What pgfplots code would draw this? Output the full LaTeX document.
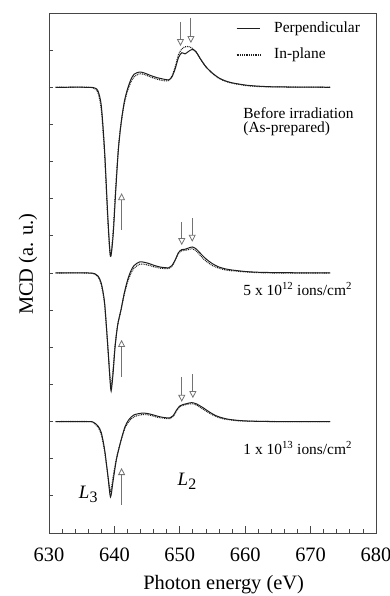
\documentclass[border=0pt]{standalone}
\usepackage{fontspec}
\setmainfont{Liberation Serif}
\usepackage{pgfplots}
\pgfplotsset{compat=1.18}
\usetikzlibrary{arrows.meta}
\definecolor{axgray}{RGB}{70,70,70}
\definecolor{arrgray}{RGB}{115,115,115}
\definecolor{curve}{RGB}{30,30,30}
\begin{document}
\begin{tikzpicture}
\useasboundingbox (-49bp,-63bp) rectangle (341bp,533bp);
\begin{axis}[
  scale only axis, width=327bp, height=520bp,
  xmin=630, xmax=680, ymin=0, ymax=14,
  xtick={630,640,...,680}, minor x tick num=4,
  ytick={1,...,13}, yticklabels={},
  xtick pos=bottom, ytick pos=left,
  tick align=inside,
  major tick length=7.5bp, minor tick length=3.8bp,
  ytick style={/pgfplots/major tick length=4.3bp},
  axis line style={axgray, line width=0.9pt},
  tick style={axgray, line width=0.8pt},
  /pgf/number format/assume math mode=true,
  /pgf/number format/set thousands separator={},
  ticklabel style={font=\fontsize{20.5}{24}\selectfont},
  xticklabel style={yshift=-11bp},
  xlabel={Photon energy (eV)}, ylabel={MCD (a. u.)},
  label style={font=\fontsize{20.5}{24}\selectfont},
  xlabel style={at={(axis description cs:0.534,-0.099)}, anchor=center},
  ylabel style={at={(axis description cs:-0.064,0.517)}, anchor=center},
  clip=false,
  every axis plot/.append style={smooth, tension=0.45},
]
% ---- Before irradiation, perpendicular
\addplot[curve, line width=1pt] coordinates {
(631,12.0)(636,12.0)(637,11.98)(637.5,11.9)(638,11.5)(638.5,10.3)(639,8.5)(639.4,7.45)
(639.8,8.0)(640.2,9.2)(640.6,10.3)(641,11.0)(641.5,11.6)(642,11.95)(642.5,12.2)(643,12.35)
(643.8,12.41)(644.5,12.39)(645.5,12.32)(646.5,12.26)(647.5,12.22)(648.3,12.2)(648.8,12.28)
(649.3,12.5)(649.8,12.8)(650.3,12.93)(650.8,12.9)(651.3,12.96)(651.9,13.02)(652.5,12.95)
(653.2,12.75)(654,12.55)(655,12.38)(656,12.25)(657,12.17)(658,12.12)(660,12.06)(662,12.03)
(665,12.01)(673,12.0)};
% ---- Before irradiation, in-plane
\addplot[curve, line width=1.1pt, dash pattern=on 0.9pt off 0.9pt] coordinates {
(631,12.0)(636,12.0)(637,11.96)(637.5,11.85)(638,11.4)(638.5,10.2)(639,8.4)(639.4,7.45)
(639.8,8.1)(640.2,9.3)(640.6,10.35)(641,11.0)(641.5,11.55)(642,11.9)(642.5,12.13)(643,12.28)
(643.8,12.36)(644.5,12.35)(645.5,12.28)(646.5,12.22)(647.5,12.18)(648.3,12.18)(648.8,12.3)
(649.3,12.55)(649.8,12.88)(650.3,13.03)(650.8,13.09)(651.3,13.1)(651.9,13.05)(652.5,12.95)
(653.2,12.75)(654,12.55)(655,12.37)(656,12.24)(657,12.16)(658,12.11)(660,12.05)(662,12.02)
(665,12.01)(673,12.0)};
% ---- 5e12, perpendicular
\addplot[curve, line width=1pt] coordinates {
(631,7.0)(636,7.0)(637,6.98)(637.5,6.92)(638,6.72)(638.5,6.2)(639,5.0)(639.3,4.2)(639.5,3.82)
(639.8,4.3)(640.1,5.0)(640.5,5.6)(641,6.0)(641.5,6.45)(642,6.8)(642.5,7.05)(643,7.2)
(643.9,7.3)(645,7.27)(646,7.21)(647,7.16)(648.3,7.14)(648.8,7.2)(649.3,7.35)(649.8,7.55)
(650.3,7.63)(650.8,7.64)(651.3,7.67)(651.9,7.7)(652.5,7.65)(653.2,7.52)(654,7.38)(655,7.25)
(656,7.16)(657,7.11)(658,7.08)(660,7.04)(662,7.02)(665,7.01)(673,7.0)};
% ---- 5e12, in-plane
\addplot[curve, line width=1.1pt, dash pattern=on 0.9pt off 0.9pt] coordinates {
(631,7.0)(636,7.0)(637,6.97)(637.5,6.9)(638,6.68)(638.5,6.15)(639,5.0)(639.3,4.25)(639.5,3.93)
(639.8,4.4)(640.1,5.05)(640.5,5.6)(641,6.0)(641.5,6.42)(642,6.75)(642.5,6.98)(643,7.13)
(643.9,7.24)(645,7.22)(646,7.17)(647,7.13)(648.3,7.12)(648.8,7.18)(649.3,7.35)(649.8,7.53)
(650.3,7.6)(650.8,7.61)(651.3,7.63)(651.9,7.65)(652.5,7.6)(653.2,7.46)(654,7.32)(655,7.2)
(656,7.13)(657,7.08)(658,7.06)(660,7.03)(662,7.01)(665,7.0)(673,7.0)};
% ---- 1e13, perpendicular
\addplot[curve, line width=1pt] coordinates {
(631,3.0)(636,3.0)(636.8,2.98)(637.5,2.88)(638,2.7)(638.5,2.25)(639,1.55)(639.4,0.97)
(639.8,1.4)(640.3,1.97)(640.9,2.42)(641.6,2.85)(642.2,3.05)(643,3.18)(644.4,3.23)(645.5,3.2)
(646.5,3.15)(647.5,3.11)(648.5,3.1)(649,3.16)(649.5,3.31)(650,3.42)(650.5,3.46)(651,3.48)
(651.8,3.51)(652.5,3.48)(653.5,3.38)(654.5,3.26)(655.5,3.16)(656.5,3.1)(657.5,3.06)(659,3.03)
(661,3.01)(665,3.0)(673,3.0)};
% ---- 1e13, in-plane
\addplot[curve, line width=1.1pt, dash pattern=on 0.9pt off 0.9pt] coordinates {
(631,3.0)(636,3.0)(636.8,2.97)(637.5,2.85)(638,2.65)(638.5,2.2)(639,1.55)(639.4,1.1)
(639.8,1.5)(640.3,2.0)(640.9,2.42)(641.6,2.82)(642.2,3.0)(643,3.13)(644.4,3.19)(645.5,3.17)
(646.5,3.12)(647.5,3.09)(648.5,3.08)(649,3.14)(649.5,3.29)(650,3.4)(650.5,3.44)(651,3.46)
(651.8,3.48)(652.5,3.45)(653.5,3.34)(654.5,3.23)(655.5,3.14)(656.5,3.08)(657.5,3.05)(659,3.02)
(661,3.01)(665,3.0)(673,3.0)};
% ---- arrows
\tikzset{myarr/.style={arrgray, line width=0.9pt, -{Triangle[open, length=7bp, width=7bp, line width=0.8pt]}}}
\draw[myarr] (axis cs:641.1,8.16) -- (axis cs:641.1,9.15);
\draw[myarr] (axis cs:641.1,4.2) -- (axis cs:641.1,5.2);
\draw[myarr] (axis cs:641.1,0.75) -- (axis cs:641.1,1.75);
\draw[myarr] (axis cs:650.1,13.76) -- (axis cs:650.1,13.11);
\draw[myarr] (axis cs:651.7,13.87) -- (axis cs:651.7,13.19);
\draw[myarr] (axis cs:650.3,8.37) -- (axis cs:650.3,7.75);
\draw[myarr] (axis cs:651.9,8.48) -- (axis cs:651.9,7.84);
\draw[myarr] (axis cs:650.3,4.2) -- (axis cs:650.3,3.53);
\draw[myarr] (axis cs:652.0,4.28) -- (axis cs:652.0,3.63);
% ---- legend
\draw[curve, line width=1pt] (axis cs:658.7,13.57) -- (axis cs:662.3,13.57);
\draw[curve, line width=1.1pt, dash pattern=on 0.9pt off 0.9pt] (axis cs:658.7,12.87) -- (axis cs:662.3,12.87);
\tikzset{lab/.style={anchor=west, inner sep=0pt, font=\fontsize{15.5}{18}\selectfont}}
\node[lab] at (axis cs:664.4,13.57) {Perpendicular};
\node[lab] at (axis cs:664.4,12.87) {In-plane};
% ---- annotations
\node[lab] at (axis cs:659.7,11.31) {Before irradiation};
\node[lab] at (axis cs:659.7,10.88) {(As-prepared)};
\node[lab] at (axis cs:659.7,6.57) {5 x 10\textsuperscript{12} ions/cm\textsuperscript{2}};
\node[lab] at (axis cs:659.7,2.29) {1 x 10\textsuperscript{13} ions/cm\textsuperscript{2}};
\node[font=\fontsize{19}{22}\selectfont, inner sep=0pt] at (axis cs:636,1.05) {\textit{L}\raisebox{-0.45ex}{\fontsize{16}{18}\selectfont 3}};
\node[font=\fontsize{19}{22}\selectfont, inner sep=0pt] at (axis cs:651.1,1.4) {\textit{L}\raisebox{-0.45ex}{\fontsize{16}{18}\selectfont 2}};
\end{axis}
\end{tikzpicture}
\end{document}
